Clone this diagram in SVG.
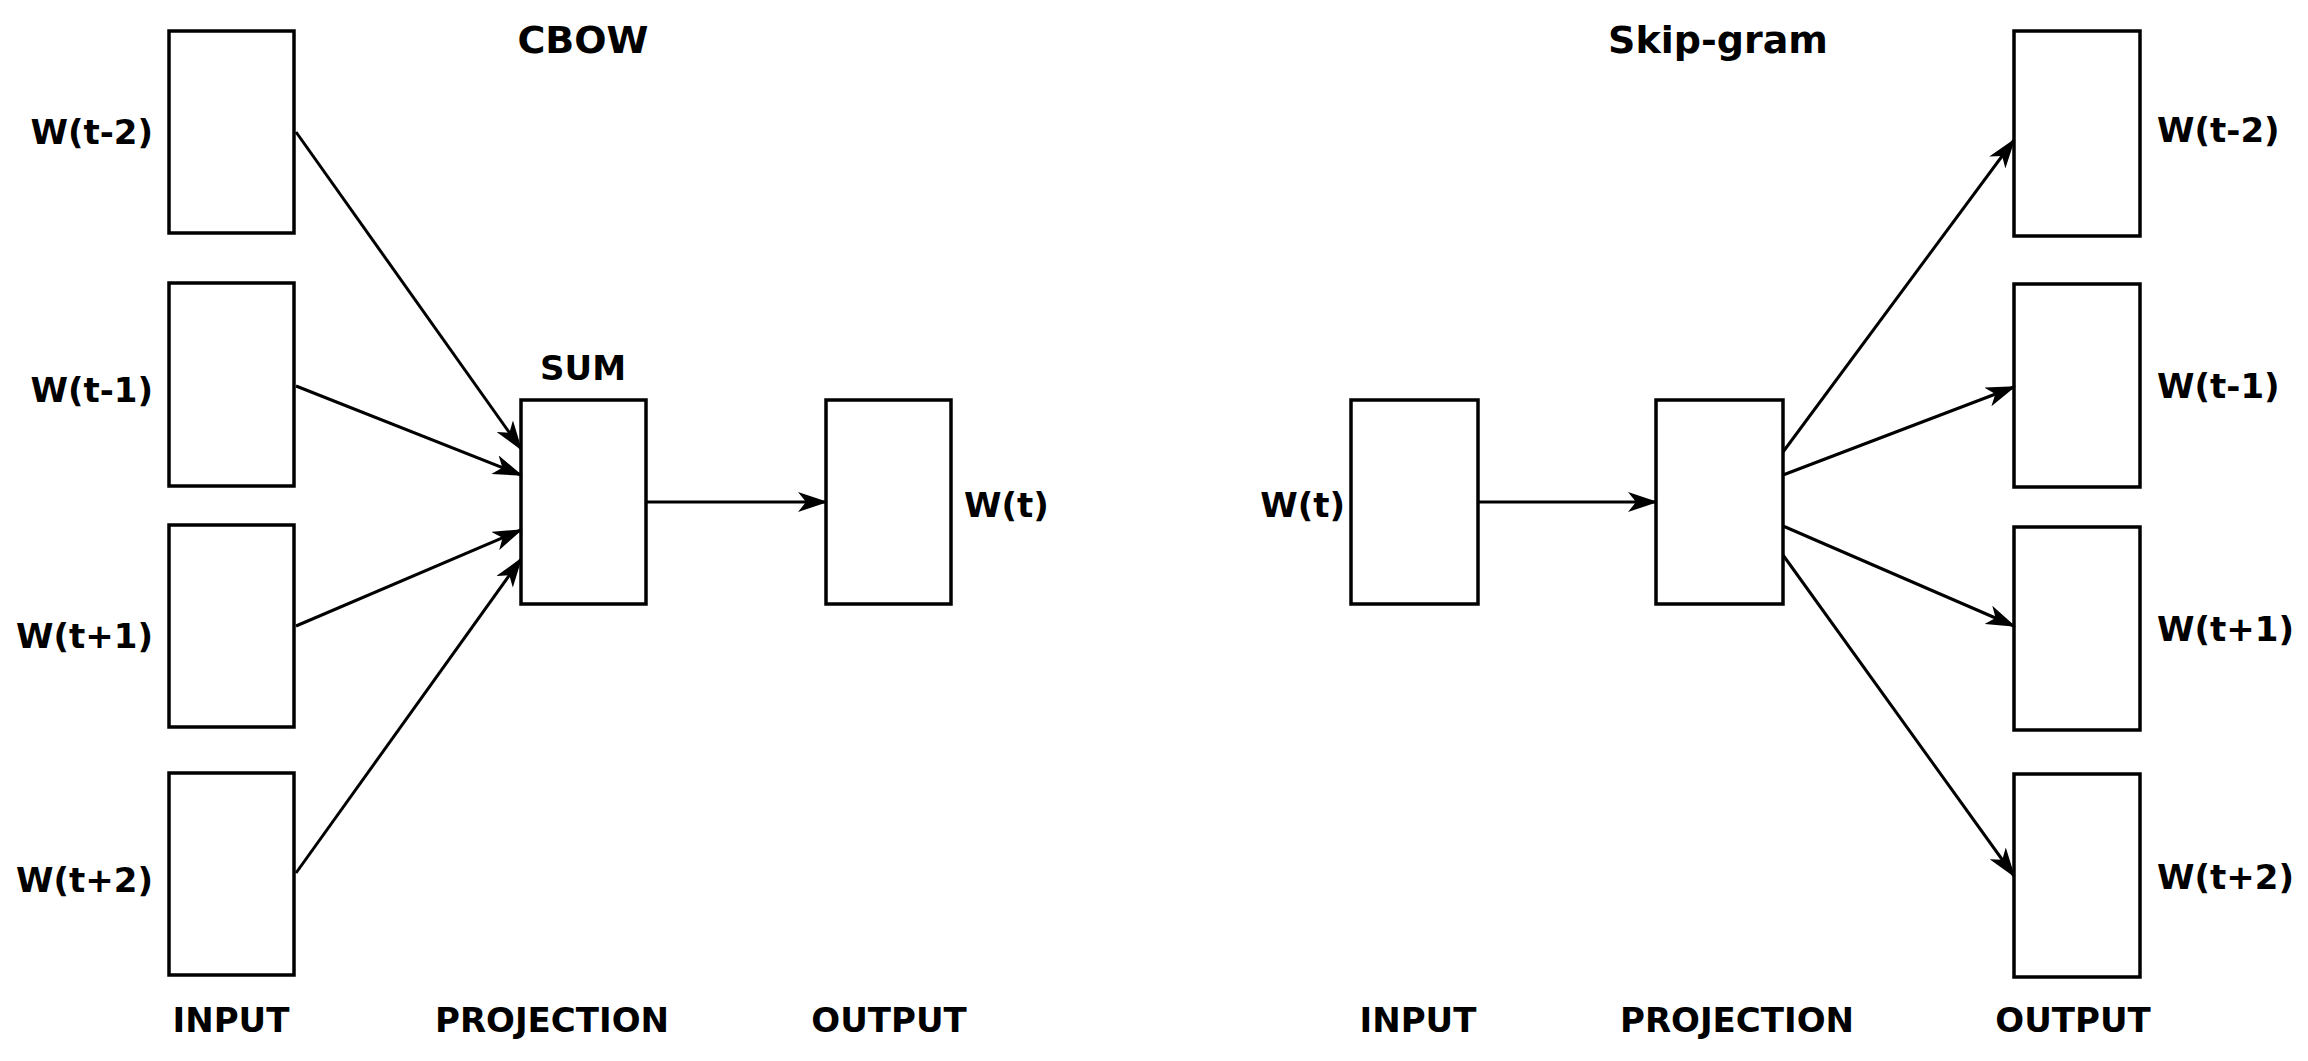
<svg xmlns="http://www.w3.org/2000/svg" width="2308" height="1061" viewBox="0 0 2308 1061">
<style>
.b{fill:#fff;stroke:#000;stroke-width:3.5}
.t{font-family:"DejaVu Sans",sans-serif;font-weight:bold;font-size:34px;fill:#000}
.m{text-anchor:middle}.e{text-anchor:end}
.c line{stroke:#000;stroke-width:3;marker-end:url(#a)}
</style>
<defs><marker id="a" viewBox="0 0 30 20" refX="28" refY="10" markerWidth="30" markerHeight="20" markerUnits="userSpaceOnUse" orient="auto"><path d="M0,0 L30,10 L0,20 L8,10 Z" fill="#000"/></marker></defs>
<rect width="2308" height="1061" fill="#fff"/>
<text class="t m" x="583" y="53" style="font-size:38px">CBOW</text>
<text class="t m" x="1718" y="53" style="font-size:38px">Skip-gram</text>
<g id="in1"><rect class="b" x="169" y="31" width="125" height="202"/><text class="t e" x="153" y="144">W(t-2)</text></g>
<g id="in2"><rect class="b" x="169" y="283" width="125" height="203"/><text class="t e" x="153" y="402">W(t-1)</text></g>
<g id="in3"><rect class="b" x="169" y="525" width="125" height="202"/><text class="t e" x="153" y="648">W(t+1)</text></g>
<g id="in4"><rect class="b" x="169" y="773" width="125" height="202"/><text class="t e" x="153" y="892">W(t+2)</text></g>
<g id="sum"><rect class="b" x="521" y="400" width="125" height="204"/><text class="t m" x="583" y="380">SUM</text></g>
<g id="out"><rect class="b" x="826" y="400" width="125" height="204"/><text class="t" x="964" y="517">W(t)</text></g>
<g id="sin"><rect class="b" x="1351" y="400" width="127" height="204"/><text class="t e" x="1345" y="517">W(t)</text></g>
<g id="sproj"><rect class="b" x="1656" y="400" width="127" height="204"/></g>
<g id="o1"><rect class="b" x="2014" y="31" width="126" height="205"/><text class="t" x="2157" y="142">W(t-2)</text></g>
<g id="o2"><rect class="b" x="2014" y="284" width="126" height="203"/><text class="t" x="2157" y="398">W(t-1)</text></g>
<g id="o3"><rect class="b" x="2014" y="527" width="126" height="203"/><text class="t" x="2157" y="641">W(t+1)</text></g>
<g id="o4"><rect class="b" x="2014" y="774" width="126" height="203"/><text class="t" x="2157" y="889">W(t+2)</text></g>
<g id="labels">
<text class="t m" x="231" y="1032">INPUT</text><text class="t m" x="552" y="1032">PROJECTION</text><text class="t m" x="889" y="1032">OUTPUT</text>
<text class="t m" x="1418" y="1032">INPUT</text><text class="t m" x="1737" y="1032">PROJECTION</text><text class="t m" x="2073" y="1032">OUTPUT</text>
</g>
<g class="c" id="connectors">
<line x1="296" y1="132" x2="521" y2="449"/>
<line x1="296" y1="386" x2="521" y2="475"/>
<line x1="296" y1="626" x2="521" y2="530"/>
<line x1="296" y1="873" x2="521" y2="559"/>
<line x1="646" y1="502" x2="826" y2="502"/>
<line x1="1478" y1="502" x2="1656" y2="502"/>
<line x1="1783" y1="452" x2="2014" y2="140"/>
<line x1="1783" y1="475" x2="2014" y2="387"/>
<line x1="1783" y1="526" x2="2014" y2="626"/>
<line x1="1783" y1="555" x2="2014" y2="876"/>
</g>
</svg>
